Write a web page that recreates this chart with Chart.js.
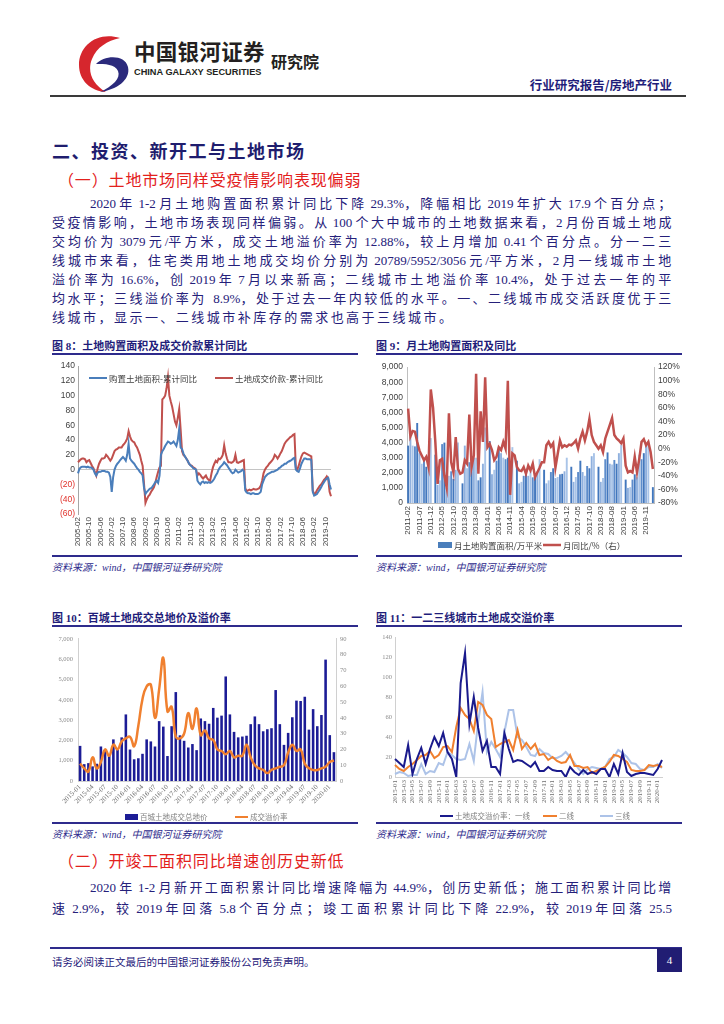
<!DOCTYPE html>
<html lang="zh-CN">
<head>
<meta charset="utf-8">
<title>行业研究报告/房地产行业</title>
<script src="https://cdn.jsdelivr.net/npm/chart.js@4.4.1/dist/chart.umd.min.js"></script>
<style>
html,body{margin:0;padding:0;background:#fff;}
body{width:724px;height:1024px;position:relative;overflow:hidden;font-family:"Liberation Serif","Noto Sans CJK SC",serif;color:#25207a;}
.a{position:absolute;white-space:nowrap;}
.ln{position:absolute;left:52px;width:640px;font-size:13px;line-height:19px;height:19px;text-align:left;color:#25207a;white-space:pre;}
.h1{font-family:"Noto Sans CJK SC";font-weight:700;font-size:18px;color:#1f1d6e;letter-spacing:1.5px;}
.h2{font-family:"Noto Sans CJK SC";font-size:16px;color:#e3211c;letter-spacing:0.85px;}
.ft{font-family:"Liberation Serif","Noto Sans CJK SC";font-weight:700;font-size:11px;color:#1f1d7a;}
.rule{position:absolute;background:#2e2b8c;}
.src{font-family:"Liberation Serif","Noto Sans CJK SC";font-style:italic;font-size:10px;color:#2e2b8c;}
.cv{position:absolute;}
</style>
</head>
<body>
<!-- header -->
<svg class="a" style="left:76px;top:33px" width="58" height="60" viewBox="0 0 58 60">
  <path d="M44 5 C22 -2 3 12 3 32 C3 47 14 58 30 59 C16 51 11 38 16 26 C21 14 31 8 44 5 Z" fill="#d6262d"/>
  <path d="M20 31 C28 22 49 21 52 34 C55 47 40 57 24 59 C37 53 45 45 42 38 C39 31 29 31 20 31 Z" fill="#2b2a7c"/>
</svg>
<div class="a" style="left:134px;top:35px;font-family:'Noto Sans CJK SC';font-weight:700;font-size:21.5px;color:#231f20;letter-spacing:0.3px">中国银河证券</div>
<div class="a" style="left:134px;top:66px;font-family:'Liberation Sans';font-weight:700;font-size:9.6px;color:#231f20;transform:scaleX(0.96);transform-origin:left top">CHINA GALAXY SECURITIES</div>
<div class="a" style="left:271px;top:49px;font-family:'Noto Sans CJK SC';font-weight:700;font-size:16px;color:#231f20">研究院</div>
<div class="a" style="right:52px;top:75px;font-family:'Noto Sans CJK SC';font-weight:700;font-size:12.5px;color:#1f1d7a">行业研究报告/房地产行业</div>
<div class="rule" style="left:50px;top:95px;width:636px;height:2px;background:#3a3a3a"></div>

<div class="a h1" style="left:52px;top:137px">二、投资、新开工与土地市场</div>
<div class="a h2" style="left:58px;top:167px">（一）土地市场同样受疫情影响表现偏弱</div>

<div class="ln" data-indent="38" style="top:194px">2020 年 1-2 月土地购置面积累计同比下降 29.3%，降幅相比 2019 年扩大 17.9 个百分点；</div>
<div class="ln" style="top:213px">受疫情影响，土地市场表现同样偏弱。从 100 个大中城市的土地数据来看，2 月份百城土地成</div>
<div class="ln" style="top:232px">交均价为 3079 元/平方米，成交土地溢价率为 12.88%，较上月增加 0.41 个百分点。分一二三</div>
<div class="ln" style="top:251px">线城市来看，住宅类用地土地成交均价分别为 20789/5952/3056 元/平方米，2 月一线城市土地</div>
<div class="ln" style="top:270px">溢价率为 16.6%，创 2019 年 7 月以来新高；二线城市土地溢价率 10.4%，处于过去一年的平</div>
<div class="ln" style="top:289px">均水平；三线溢价率为  8.9%，处于过去一年内较低的水平。一、二线城市成交活跃度优于三</div>
<div class="ln last" style="top:308px">线城市，显示一、二线城市补库存的需求也高于三线城市。</div>

<!-- figure 8 -->
<div class="a ft" style="left:52px;top:337px">图 8：土地购置面积及成交价款累计同比</div>
<div class="rule" style="left:52px;top:353px;width:306px;height:2px"></div>
<div class="cv" style="left:52px;top:358px;width:306px;height:196px"><canvas id="c8"></canvas></div>
<div class="rule" style="left:52px;top:555px;width:306px;height:1.5px"></div>
<div class="a src" style="left:52px;top:559px">资料来源：wind，中国银河证券研究院</div>

<!-- figure 9 -->
<div class="a ft" style="left:376px;top:337px">图 9：月土地购置面积及同比</div>
<div class="rule" style="left:376px;top:353px;width:306px;height:2px"></div>
<div class="cv" style="left:376px;top:358px;width:314px;height:197px"><canvas id="c9"></canvas></div>
<div class="rule" style="left:376px;top:555px;width:306px;height:1.5px"></div>
<div class="a src" style="left:376px;top:559px">资料来源：wind，中国银河证券研究院</div>

<!-- figure 10 -->
<div class="a ft" style="left:52px;top:609px">图 10：百城土地成交总地价及溢价率</div>
<div class="rule" style="left:52px;top:625px;width:306px;height:2px"></div>
<div class="cv" style="left:52px;top:630px;width:306px;height:191px"><canvas id="c10"></canvas></div>
<div class="rule" style="left:52px;top:822px;width:306px;height:1.5px"></div>
<div class="a src" style="left:52px;top:826px">资料来源：wind，中国银河证券研究院</div>

<!-- figure 11 -->
<div class="a ft" style="left:376px;top:609px">图 11：一二三线城市土地成交溢价率</div>
<div class="rule" style="left:376px;top:625px;width:306px;height:2px"></div>
<div class="cv" style="left:376px;top:630px;width:314px;height:191px"><canvas id="c11"></canvas></div>
<div class="rule" style="left:376px;top:822px;width:306px;height:1.5px"></div>
<div class="a src" style="left:376px;top:826px">资料来源：wind，中国银河证券研究院</div>

<div class="a h2" style="left:58px;top:848px">（二）开竣工面积同比增速创历史新低</div>
<div class="ln" data-indent="38" style="top:878px">2020 年 1-2 月新开工面积累计同比增速降幅为 44.9%，创历史新低；施工面积累计同比增</div>
<div class="ln" style="top:899px">速 2.9%，较 2019 年回落 5.8 个百分点；竣工面积累计同比下降 22.9%，较 2019 年回落 25.5</div>

<!-- footer -->
<div class="rule" style="left:50px;top:947px;width:632px;height:2px"></div>
<div class="a" style="left:52px;top:954px;font-family:'Noto Sans CJK SC';font-size:10.5px;color:#25207a">请务必阅读正文最后的中国银河证券股份公司免责声明。</div>
<div class="a" style="left:657px;top:948px;width:25px;height:24px;background:#211d73;color:#fff;font-size:11px;line-height:24px;text-align:center">4</div>

<script>
// ---------- Figure 8: 土地购置面积及成交价款累计同比 (monthly 2005-02 .. 2020-02) ----------
const fig8Start = [2005, 2];
const fig8End = [2020, 2];
const fig8AreaYoY = [
  -5,1,3,4,4,4,3,4,3,3,2,
  0,-5,-8,-4,-3,-3,-2,-2,-2,-3,-3,-4,
  -10,-30,-10,0,5,8,10,13,15,17,15,12,
  20,35,15,12,10,8,5,2,0,-3,-5,-8,
  -25,-33,-30,-28,-26,-25,-23,-20,-17,-15,-18,-8,
  20,25,28,32,35,38,37,35,36,38,35,32,
  40,55,30,28,22,18,15,12,8,6,4,2,
  1,0,-15,-18,-20,-17,-16,-18,-17,-18,-17,-18,
  -17,-15,-12,-8,-5,0,3,5,7,10,8,6,
  3,0,-3,-5,-4,0,-2,-4,-3,-2,0,-2,
  -28,-31,-32,-32,-33,-32,-32,-33,-33,-33,-32,-30,
  -20,-15,-10,-8,-6,-5,-4,-3,-3,-2,-1,0,
  2,3,5,6,8,8,10,11,12,13,15,16,
  0,-2,-3,2,8,12,15,15,14,14,14,13,
  -30,-35,-34,-33,-30,-27,-24,-20,-17,-14,-12,-11,
  -20,-27
];
const fig8PriceYoY = [
  10,12,14,15,15,14,10,12,13,9,5,
  2,-3,-8,2,8,12,15,15,16,20,18,15,
  12,15,20,25,27,28,30,30,30,33,35,38,
  42,52,45,40,38,37,33,30,25,20,12,5,
  -20,-45,-40,-36,-34,-30,-27,-24,-18,-10,-3,3,
  5,95,97,100,110,125,100,92,85,75,65,60,
  70,82,55,25,20,18,15,12,8,6,5,3,
  2,0,-8,-5,-7,-10,-12,-10,-8,-12,-14,-15,
  -5,3,8,12,10,15,14,16,20,33,22,15,
  10,10,9,10,12,20,10,9,10,11,12,13,
  -25,-29,-28,-27,-28,-27,-26,-27,-27,-26,-25,-22,
  -15,-5,0,3,5,8,10,12,15,20,18,15,
  18,22,25,30,35,38,40,42,44,45,47,48,
  2,0,5,12,18,22,23,22,21,20,19,18,
  -28,-33,-32,-28,-25,-22,-20,-17,-14,-12,-9,-12,
  -30,-36
];
const fig8YTicks = [-60,-40,-20,0,20,40,60,80,100,120,140];

// ---------- Figure 9: 月土地购置面积及同比 (monthly 2011-02 .. 2020-02) ----------
const fig9Start = [2011, 2];
const fig9End = [2020, 2];
const fig9Area = [
  3800,4400,3800,3750,5300,3300,2600,2800,2400,2800,4300,
  null,3200,1200,1500,3900,4000,1000,1800,2100,1600,2200,4000,
  null,1300,3800,2300,2700,2700,3000,3000,1500,1700,2600,5000,
  null,4100,1900,2200,2800,3700,3300,3000,2900,3000,2700,3700,
  null,2800,1300,1400,1800,2200,1800,2100,1700,1900,2100,2900,
  null,2200,1300,1500,2050,2300,1650,1720,1900,1930,2100,3000,
  null,2400,1400,1720,2050,2800,2050,1800,2450,2300,3100,3300,
  null,2400,1400,1650,2900,3350,2600,2550,2850,2600,3300,3850,
  null,1550,1000,1050,1550,1900,1700,3200,2900,3300,3900,4100,
  null,1050
];
const fig9YoY = [
  59,18,26,25,10,-3,-10,-17,-12,-27,87,60,
  10,-52,-17,-15,-40,-57,52,-20,-35,17,-30,-37,
  -35,-17,-22,50,-27,-10,110,-37,55,10,105,2,
  7,-2,-17,-12,2,-2,10,0,100,-68,-7,-10,
  -27,-32,-33,-27,-37,-25,-32,-22,-42,-35,-28,-20,
  -20,5,10,3,8,-28,-8,12,2,5,3,6,
  5,8,12,0,15,25,12,25,44,20,10,5,
  0,5,-5,15,25,35,45,20,15,12,8,15,
  -25,-35,-33,-35,-12,-35,-15,10,14,5,10,-5,
  -30
];

// ---------- Figure 10: 百城土地成交总地价及溢价率 (monthly 2015-01 .. 2020-02) ----------
const fig10Start = [2015, 1];
const fig10End = [2020, 2];
const fig10Total = [
  1730,830,880,720,850,1700,1500,1280,2050,1560,
  2150,3280,1550,1070,1120,1340,2050,1950,1700,2950,
  2680,1230,2700,4380,2250,1980,1650,1820,1520,3080,
  2950,2820,3600,3120,3220,5150,3280,2420,2150,2190,
  2230,2800,3180,2800,2450,2550,2600,4480,2800,1780,
  2370,3140,3960,3940,4150,2530,3540,2700,3250,5980,
  2260,1420
];
const fig10Premium = [
  11,8,6,15,8,12,20,16,23,20,
  25,27,28,22,35,52,60,61,40,58,
  78,44,47,28,27,30,43,33,46,29,
  32,27,26,20,19,17,19,15,16,16,
  23,15,10,8,7,5,7,8,9,10,
  18,23,19,20,11,8,7,7,8,9,
  12,13
];

// ---------- Figure 11: 一二三线城市土地成交溢价率 (monthly 2015-01 .. 2020-02) ----------
const fig11Start = [2015, 1];
const fig11End = [2020, 2];
const fig11Tier1 = [
  18,14,10,32,3,18,29,13,28,40,31,44,25,18,
  0,94,124,53,80,49,26,36,10,10,3,44,
  28,15,17,16,13,10,15,6,6,10,7,6,6,0,10,5,2,7,3,5,3,8,8,0,13,3,24,5,1,3,4,4,3,2,8,17
];
const fig11Tier2 = [
  12,8,6,10,13,17,21,22,26,19,
  22,30,31,25,50,69,62,58,46,75,
  72,62,58,30,33,35,37,27,47,28,
  34,28,33,22,23,17,20,16,14,15,
  22,11,11,9,10,4,6,8,10,15,
  22,21,18,15,7,6,6,7,12,11,
  12,10
];
const fig11Tier3 = [
  3,5,4,1,2,2,13,3,6,5,
  14,12,25,22,18,17,18,33,16,55,
  85,25,35,28,20,45,67,67,40,37,
  30,22,21,28,24,23,19,19,21,25,
  20,14,8,3,8,10,9,8,10,18,
  20,27,24,20,14,13,8,7,10,10,
  13,9
];

// ---------- paragraph lines: spread the Chinese characters evenly across the column ----------
(function justifyLines() {
  const colWidth = 620;
  const wide = ch => /[\u3000-\u303f\u4e00-\u9fff\uff00-\uffef]/.test(ch);
  let lastLs = 1.6;
  document.querySelectorAll('.ln').forEach(el => {
    const indent = parseFloat(el.dataset.indent || '0');
    const chars = Array.from(el.textContent);
    el.textContent = '';
    const holder = document.createElement('span');
    holder.style.marginLeft = indent + 'px';
    el.appendChild(holder);
    const wideSpans = [];
    let run = null, runWide = null;
    chars.forEach(ch => {
      const w = wide(ch);
      if (run === null || w !== runWide) {
        run = document.createElement('span');
        runWide = w;
        holder.appendChild(run);
        if (w) wideSpans.push(run);
      }
      run.textContent += ch;
    });
    const natural = holder.getBoundingClientRect().width;
    const nWide = chars.filter(wide).length;
    const endsWide = wide(chars[chars.length - 1]);
    if (!el.classList.contains('last')) {
      lastLs = (colWidth - indent - natural) / (nWide - (endsWide ? 0.75 : 0));
    }
    wideSpans.forEach(s => { s.style.letterSpacing = lastLs.toFixed(3) + 'px'; });
  });
})();

function monthLabels(start, end) {
  const out = [];
  let y = start[0], m = start[1];
  while (y < end[0] || (y === end[0] && m <= end[1])) {
    out.push(y + '-' + String(m).padStart(2, '0'));
    m++; if (m > 12) { m = 1; y++; }
  }
  return out;
}
const fig8Labels = monthLabels(fig8Start, fig8End);
const fig9Labels = monthLabels(fig9Start, fig9End);
const fig10Labels = monthLabels(fig10Start, fig10End);
const fig11Labels = monthLabels(fig11Start, fig11End);

Chart.defaults.animation = false;
Chart.defaults.responsive = true;
Chart.defaults.maintainAspectRatio = false;
Chart.defaults.devicePixelRatio = 1;
Chart.defaults.events = [];
Chart.defaults.plugins.tooltip.enabled = false;
Chart.defaults.plugins.legend.display = false;
Chart.defaults.elements.point.radius = 0;
Chart.defaults.font.family = '"Liberation Sans","Noto Sans CJK SC",sans-serif';
Chart.defaults.color = '#595959';

// legend drawn at fixed spots inside each canvas
const placedLegend = {
  id: 'placedLegend',
  afterDraw(chart, args, opts) {
    if (!opts.items) return;
    const ctx = chart.ctx;
    ctx.save();
    ctx.font = opts.font;
    ctx.textBaseline = 'middle';
    chart.data.datasets.forEach((ds, i) => {
      const it = opts.items[i];
      if (!it) return;
      const col = ds.legendColor || ds.borderColor;
      if (it.type === 'rect') {
        ctx.fillStyle = col;
        ctx.fillRect(it.x, it.y - it.h / 2, it.w, it.h);
      } else {
        ctx.strokeStyle = col;
        ctx.lineWidth = it.lw || 2;
        ctx.beginPath(); ctx.moveTo(it.x, it.y); ctx.lineTo(it.x + it.w, it.y); ctx.stroke();
      }
      ctx.fillStyle = opts.color;
      ctx.fillText(ds.label, it.x + it.w + 2, it.y + 0.5);
    });
    ctx.restore();
  }
};
Chart.register(placedLegend);

const sansTick = {family: '"Liberation Sans",sans-serif', size: 8.5};
const serifTick = {family: '"Liberation Serif",serif', size: 6.5};
const noGrid = {display: false, drawTicks: false};

// Figure 8
new Chart(document.getElementById('c8'), {
  type: 'line',
  data: {
    labels: fig8Labels,
    datasets: [
      {label: '购置土地面积-累计同比', data: fig8AreaYoY, borderColor: '#4a7ebb', borderWidth: 2, tension: 0},
      {label: '土地成交价款-累计同比', data: fig8PriceYoY, borderColor: '#c0504d', borderWidth: 2, tension: 0}
    ]
  },
  options: {
    layout: {padding: {top: 7, right: 27, bottom: 0, left: 0}},
    scales: {
      x: {
        grid: noGrid, border: {display: false},
        afterFit(s) { s.height = 40; },
        ticks: {autoSkip: false, minRotation: 90, maxRotation: 90, padding: 3, font: {family: '"Liberation Sans",sans-serif', size: 8}, color: '#404040',
          callback(v, i) { return i % 8 === 0 ? fig8Labels[i] : ''; }}
      },
      y: {
        min: -60, max: 140,
        afterFit(s) { s.width = 26; },
        afterBuildTicks(s) { s.ticks = fig8YTicks.map(v => ({value: v})); },
        border: {color: '#a6a6a6'},
        grid: {drawTicks: false, color: c => c.tick && c.tick.value === 0 ? '#c4c4c4' : 'rgba(0,0,0,0)'},
        ticks: {font: sansTick, padding: 3,
          color: c => c.tick.value < 0 ? '#e0302a' : '#404040',
          callback: v => v < 0 ? '(' + (-v) + ')' : String(v)}
      }
    },
    plugins: {
      placedLegend: {font: '8.5px "Noto Sans CJK SC"', color: '#404040', items: [
        {type: 'line', x: 37, y: 20, w: 18, lw: 2},
        {type: 'line', x: 163, y: 20, w: 18, lw: 2}
      ]}
    }
  }
});

// Figure 9
new Chart(document.getElementById('c9'), {
  data: {
    labels: fig9Labels,
    datasets: [
      {type: 'bar', label: '月土地购置面积/万平米', data: fig9Area, yAxisID: 'y', order: 2,
        legendColor: '#4a7ebb',
        backgroundColor: c => ['#4277bd', '#8fb0de', '#a9c4e8', '#5d8ccb'][c.dataIndex % 4],
        barPercentage: 0.92, categoryPercentage: 0.92},
      {type: 'line', label: '月同比/%（右）', data: fig9YoY, yAxisID: 'y1', order: 1,
        borderColor: '#c0504d', borderWidth: 2.5, tension: 0, spanGaps: true}
    ]
  },
  options: {
    layout: {padding: {top: 6, right: 0, bottom: 16, left: 0}},
    scales: {
      x: {
        grid: noGrid, border: {color: '#bfbfbf'},
        afterFit(s) { s.height = 36; },
        ticks: {autoSkip: false, minRotation: 90, maxRotation: 90, padding: 3, font: {family: '"Liberation Sans",sans-serif', size: 8}, color: '#404040',
          callback(v, i) { return i % 5 === 0 ? fig9Labels[i] : ''; }}
      },
      y: {
        position: 'left', min: 0, max: 9000,
        afterFit(s) { s.width = 31; },
        grid: noGrid, border: {color: '#bfbfbf'},
        ticks: {stepSize: 1000, font: sansTick, color: '#404040', padding: 4,
          callback: v => v.toLocaleString('en-US')}
      },
      y1: {
        position: 'right', min: -80, max: 120,
        afterFit(s) { s.width = 36; },
        grid: noGrid, border: {color: '#bfbfbf'},
        ticks: {stepSize: 20, font: sansTick, color: '#404040', padding: 4,
          callback: v => v + '%'}
      }
    },
    plugins: {
      placedLegend: {font: '8.5px "Noto Sans CJK SC"', color: '#404040', items: [
        {type: 'rect', x: 62, y: 187, w: 14, h: 6},
        {type: 'line', x: 167, y: 187, w: 18, lw: 2.5}
      ]}
    }
  }
});

// Figure 10
new Chart(document.getElementById('c10'), {
  data: {
    labels: fig10Labels,
    datasets: [
      {type: 'bar', label: '百城土地成交总地价', data: fig10Total, yAxisID: 'y', order: 2,
        backgroundColor: '#1c1c96', legendColor: '#1c1c96', barPercentage: 0.62, categoryPercentage: 1},
      {type: 'line', label: '成交溢价率', data: fig10Premium, yAxisID: 'y1', order: 1,
        borderColor: '#f0802f', borderWidth: 2.5, tension: 0.45}
    ]
  },
  options: {
    layout: {padding: {top: 6, right: 0, bottom: 14, left: 0}},
    scales: {
      x: {
        grid: noGrid, border: {color: '#d0d0d0'},
        afterFit(s) { s.height = 26; },
        ticks: {autoSkip: false, minRotation: 45, maxRotation: 45, padding: 2, font: {family: '"Liberation Serif",serif', size: 7}, color: '#6f6f6f',
          callback(v, i) { return i % 3 === 0 ? fig10Labels[i] : ''; }}
      },
      y: {
        position: 'left', min: 0, max: 7000,
        afterFit(s) { s.width = 26; },
        grid: noGrid, border: {color: '#d0d0d0'},
        ticks: {stepSize: 1000, font: serifTick, color: '#8c8c8c', padding: 5}
      },
      y1: {
        position: 'right', min: 0, max: 90,
        afterFit(s) { s.width = 22; },
        grid: noGrid, border: {color: '#d0d0d0'},
        ticks: {stepSize: 10, font: serifTick, color: '#8c8c8c', padding: 4}
      }
    },
    plugins: {
      placedLegend: {font: '7.5px "Noto Sans CJK SC"', color: '#7f7f7f', items: [
        {type: 'rect', x: 73, y: 187, w: 13, h: 6},
        {type: 'line', x: 183, y: 187, w: 13, lw: 2}
      ]}
    }
  }
});

// Figure 11
new Chart(document.getElementById('c11'), {
  type: 'line',
  data: {
    labels: fig11Labels,
    datasets: [
      {label: '土地成交溢价率：一线', data: fig11Tier1, borderColor: '#1a1a8c', borderWidth: 2, tension: 0},
      {label: '二线', data: fig11Tier2, borderColor: '#f0802f', borderWidth: 2, tension: 0},
      {label: '三线', data: fig11Tier3, borderColor: '#adc3e8', borderWidth: 2, tension: 0}
    ]
  },
  options: {
    layout: {padding: {top: 7, right: 28, bottom: 12, left: 0}},
    scales: {
      x: {
        grid: noGrid, border: {color: '#d0d0d0'},
        afterFit(s) { s.height = 32; },
        ticks: {autoSkip: false, minRotation: 90, maxRotation: 90, padding: 3, font: {family: '"Liberation Serif",serif', size: 7}, color: '#6f6f6f',
          callback(v, i) { return i % 2 === 0 ? fig11Labels[i] : ''; }}
      },
      y: {
        min: 0, max: 140,
        afterFit(s) { s.width = 19; },
        grid: noGrid, border: {color: '#d0d0d0'},
        ticks: {stepSize: 20, font: serifTick, color: '#8c8c8c', padding: 3}
      }
    },
    plugins: {
      placedLegend: {font: '7.5px "Noto Sans CJK SC"', color: '#7f7f7f', items: [
        {type: 'line', x: 64, y: 186, w: 13, lw: 2},
        {type: 'line', x: 167, y: 186, w: 14, lw: 2},
        {type: 'line', x: 224, y: 186, w: 13, lw: 2}
      ]}
    }
  }
});
</script>
</body>
</html>
